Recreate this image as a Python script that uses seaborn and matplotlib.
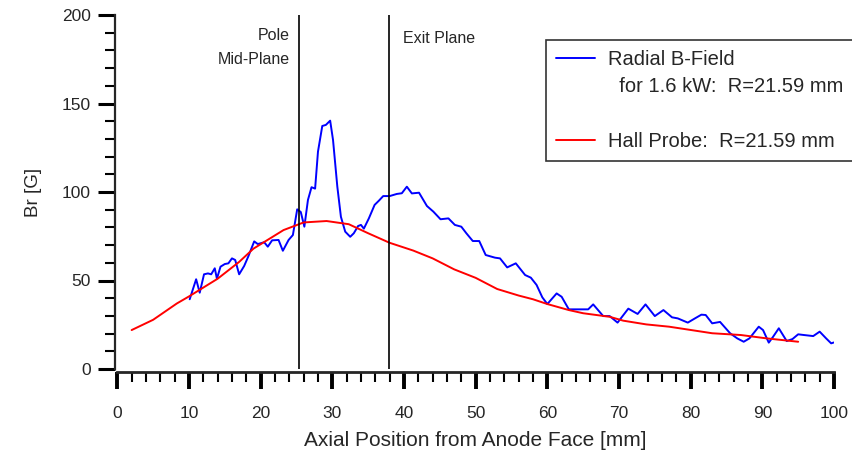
import numpy as np
import pandas as pd
import matplotlib
matplotlib.use("Agg")
import matplotlib.pyplot as plt
import seaborn as sns
from matplotlib.lines import Line2D
from matplotlib.ticker import MultipleLocator

# ---- data ----
radial_x = [10.1, 11.0, 11.5, 12.1, 12.65, 13.1, 13.6, 13.9, 14.4, 15.0, 15.5, 16.0, 16.45,
            17.0, 17.7, 18.3, 19.1, 19.6, 20.5, 21.0, 21.6, 22.5, 23.1, 23.9, 24.5, 25.1,
            25.6, 26.1, 26.6, 27.1, 27.6, 28.0, 28.6, 29.1, 29.7, 30.1, 30.7, 31.2, 31.8,
            32.5, 33.0, 33.6, 34.0, 34.4, 35.1, 35.9, 36.5, 37.1, 38.0, 39.0, 39.7, 40.4,
            41.1, 42.1, 43.2, 44.1, 45.1, 46.2, 47.1, 48.0, 48.7, 49.6, 50.5, 51.4, 52.7,
            53.4, 54.4, 55.6, 56.9, 57.7, 58.5, 59.3, 60.0, 61.3, 62.0, 63.0, 65.7, 66.4,
            67.8, 68.7, 69.8, 71.3, 72.6, 73.7, 75.0, 76.2, 77.4, 78.2, 79.6, 80.6, 81.5,
            82.1, 83.0, 84.1, 85.5, 86.5, 87.4, 88.2, 89.5, 90.1, 90.9, 91.5, 92.3, 93.4,
            94.2, 95.0, 95.8, 97.1, 98.0, 98.9, 99.6, 100.0]
radial_br = [39.4, 50.7, 43.1, 53.5, 54.0, 53.5, 56.9, 51.0, 57.8, 59.3, 59.7, 62.5, 61.6,
             53.5, 58.2, 63.8, 72.1, 70.6, 71.6, 69.1, 72.7, 72.9, 66.8, 72.9, 75.7, 90.2,
             88.7, 80.4, 95.5, 102.7, 101.9, 122.8, 137.3, 137.9, 140.3, 129.4, 103.0, 86.0, 77.6,
             74.7, 76.7, 80.8, 81.4, 79.3, 85.1, 92.7, 95.1, 97.7, 97.7, 98.9, 99.3, 103.0,
             99.2, 99.6, 92.1, 88.9, 84.6, 85.1, 81.4, 80.4, 76.7, 72.3, 72.3, 64.4, 62.9,
             62.5, 57.4, 59.7, 53.1, 51.6, 47.5, 40.5, 36.7, 42.7, 40.8, 33.7, 33.7, 36.5,
             29.9, 29.9, 26.2, 34.1, 31.1, 36.5, 29.9, 33.3, 29.2, 28.6, 26.2, 28.6, 30.7,
             30.5, 25.8, 26.6, 20.2, 17.3, 15.4, 17.3, 23.9, 22.0, 14.9, 18.2, 23.0, 15.8,
             16.9, 19.6, 19.2, 18.6, 21.1, 17.3, 14.5, 15.0]

hall_x = [2.0, 5.0, 8.3, 10.0, 14.0, 17.0, 19.0, 21.0, 23.2, 26.0, 29.2, 32.3, 35.0, 38.0,
          41.3, 44.0, 47.0, 50.0, 53.0, 56.0, 58.0, 60.0, 63.0, 65.0, 68.7, 70.6, 73.8,
          77.0, 83.0, 87.0, 90.6, 95.0]
hall_br = [22.0, 27.8, 37.0, 41.0, 51.0, 60.5, 68.0, 73.0, 78.5, 82.8, 83.6, 81.8, 76.7, 71.3,
           66.9, 62.5, 56.3, 51.5, 45.2, 41.5, 39.4, 36.7, 33.3, 31.5, 29.5, 27.3, 25.2,
           23.9, 20.2, 19.2, 17.3, 15.4]

marker_x = [25.3, 37.9]
marker_text = ["Pole", "Mid-Plane", "Exit Plane"]

x_ticks = [0, 10, 20, 30, 40, 50, 60, 70, 80, 90, 100]
y_ticks = [0, 50, 100, 150, 200]

legend_labels = ["Radial B-Field", "  for 1.6 kW:  R=21.59 mm", "", "Hall Probe:  R=21.59 mm"]

# ---- plotting ----
sns.set_style("ticks")
plt.rcParams['font.family'] = ['Liberation Sans', 'DejaVu Sans']

fig = plt.figure(figsize=(8.52, 4.53), dpi=100)
ax = fig.add_axes([117.3 / 852, 1 - 369 / 453, (834 - 117.3) / 852, (369 - 15) / 453])

df_r = pd.DataFrame({"x": radial_x, "y": radial_br})
df_h = pd.DataFrame({"x": hall_x, "y": hall_br})
sns.lineplot(data=df_r, x="x", y="y", ax=ax, color="#0000ff", lw=1.4, sort=False)
sns.lineplot(data=df_h, x="x", y="y", ax=ax, color="#ff0000", lw=1.4, sort=False)

for xv in marker_x:
    ax.axvline(xv, color="black", lw=1.2)

ax.text(marker_x[0] - 1.2, 188.7, marker_text[0], ha="right", va="center", fontsize=11.5)
ax.text(marker_x[0] - 1.2, 175.1, marker_text[1], ha="right", va="center", fontsize=11.5)
ax.text(marker_x[1] + 1.9, 187, marker_text[2], ha="left", va="center", fontsize=11.5)

ax.set_xlim(0, 100)
ax.set_ylim(0, 200)
ax.set_xticks(x_ticks)
ax.set_yticks(y_ticks)
ax.xaxis.set_minor_locator(MultipleLocator(2))
ax.yaxis.set_minor_locator(MultipleLocator(10))

for s in ["top", "right"]:
    ax.spines[s].set_visible(False)
ax.spines["left"].set_position(("outward", 2))
ax.spines["bottom"].set_position(("outward", 2))
ax.spines["left"].set_linewidth(1.6)
ax.spines["bottom"].set_linewidth(2.0)

ax.tick_params(axis="x", which="major", direction="out", length=12, width=2.8,
               labelsize=12.5, pad=13, color="black")
ax.tick_params(axis="x", which="minor", direction="out", length=7, width=1.5, color="black")
ax.tick_params(axis="y", which="major", direction="out", length=12, width=2.2,
               labelsize=12.5, pad=5, color="black")
ax.tick_params(axis="y", which="minor", direction="out", length=7, width=1.5, color="black")

ax.set_xlabel("Axial Position from Anode Face [mm]", fontsize=15, labelpad=6.5)
ax.set_ylabel("Br [G]", fontsize=13.5, labelpad=14)

handles = [Line2D([], [], color="#0000ff", lw=1.4),
           Line2D([], [], color="none"),
           Line2D([], [], color="none"),
           Line2D([], [], color="#ff0000", lw=1.4)]
leg = fig.legend(handles, legend_labels, loc="upper left",
                 bbox_to_anchor=(546 / 852, 1 - 40 / 453), fontsize=14.5,
                 frameon=True, fancybox=False, handlelength=1.95, handletextpad=0.65,
                 borderpad=0.5, labelspacing=0.41, borderaxespad=0)
leg.get_frame().set_edgecolor("black")
leg.get_frame().set_linewidth(1.2)

fig.savefig("out.png", dpi=100)
